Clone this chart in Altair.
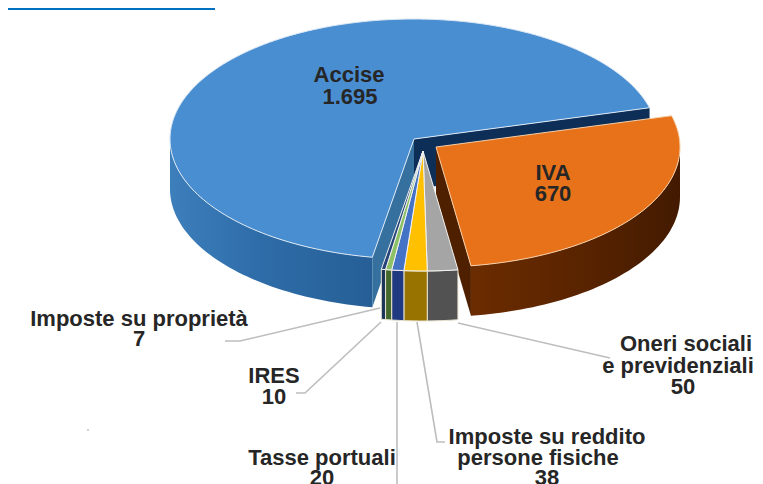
import math
import altair as alt
import pandas as pd

# ---- data ----
categories = ["Accise", "IVA", "Oneri sociali e previdenziali", "Imposte su reddito persone fisiche",
              "Tasse portuali", "IRES", "Imposte su proprietà"]
values = [1695, 670, 50, 38, 20, 10, 7]
top_colors = ["#4A8ED2", "#E8721A", "#A5A5A5", "#FFC000", "#4472C4", "#8CC168", "#264478"]
side_colors = ["#2E6EA8", "#5C2500", "#525252", "#997300", "#1F3A80", "#43682B", "#1B3558"]

label_lines = ["Accise", "1.695", "IVA", "670", "Imposte su proprietà", "7", "IRES", "10",
               "Tasse portuali", "20", "Imposte su reddito", "persone fisiche", "38",
               "Oneri sociali", "e previdenziali", "50"]
label_x = [349, 350, 553, 553, 139, 139, 274, 274, 322, 322, 547, 538, 547, 686, 678, 683]
label_y = [75, 97, 173, 194, 319, 339, 376, 397, 458, 478, 437, 458, 478, 344, 366, 387]

leader_id = [0, 0, 0, 1, 1, 1, 2, 2, 3, 3, 3, 4, 4]
leader_x = [380, 240, 225, 381, 305, 296, 397, 397, 417, 437, 445, 458, 610]
leader_y = [308, 341, 341, 322, 393, 393, 322, 484, 322, 442, 442, 323, 358]

# ---- pie geometry ----
W, H = 747, 476
RX, RY, DEPTH = 244, 120, 50
START = 74.9
BLUE_C = (414, 139)
IVA_C = (436, 147)
SMALL_C = (423, 151)
RIM_FILL = "#DCE8F4"

total = sum(values)
# slices run clockwise: IVA, small ones, then Accise
spans = {}
a = START
for name, v in zip(categories[1:] + categories[:1], values[1:] + values[:1]):
    spans[name] = (a, a + v / total * 360)
    a += v / total * 360


def pt(c, deg, dy=0):
    t = math.radians(deg)
    return (c[0] + RX * math.sin(t), c[1] - RY * math.cos(t) + dy)


def arc(c, a0, a1, dy=0):
    n = max(2, int(abs(a1 - a0) / 1.5) + 1)
    return [pt(c, a0 + (a1 - a0) * i / (n - 1), dy) for i in range(n)]


def top(c, a0, a1):
    return [c] + arc(c, a0, a1) + [c]


def side(c, a0, a1):
    up = arc(c, a0, a1)
    down = arc(c, a1, a0, DEPTH)
    return up + down + [up[0]]


def cut(c, deg):
    p = pt(c, deg)
    return [c, p, (p[0], p[1] + DEPTH), (c[0], c[1] + DEPTH), c]


def frame(polys):
    rows = []
    for pid, (pts, fill, stroke, sw) in enumerate(polys):
        for i, (x, y) in enumerate(pts):
            rows.append({"pid": f"p{pid:03d}", "i": i, "x": x, "y": y, "fill": fill, "stroke": stroke, "sw": sw})
    return pd.DataFrame(rows)


x_enc = alt.X("x:Q", scale=alt.Scale(domain=[8, 755], nice=False, zero=False), axis=None)
y_enc = alt.Y("y:Q", scale=alt.Scale(domain=[484, 8], nice=False, zero=False), axis=None)


def poly_layer(polys):
    return alt.Chart(frame(polys)).mark_line(fill="#000000", clip=True, interpolate="linear").encode(
        x=x_enc, y=y_enc, order="i:Q",
        fill=alt.Fill("fill:N", scale=None),
        stroke=alt.Stroke("stroke:N", scale=None),
        strokeWidth=alt.StrokeWidth("sw:Q", scale=None),
        detail="pid:N",
    )


def grad_layer(pts, stops, x1=0.0, x2=1.0):
    df = frame([(pts, "", "", 0)])
    return alt.Chart(df).mark_line(
        fill=alt.Gradient(gradient="linear", x1=x1, x2=x2, y1=0, y2=0,
                          stops=[alt.GradientStop(color=c, offset=o) for o, c in stops]),
        strokeWidth=0, clip=True,
    ).encode(x=x_enc, y=y_enc, order="i:Q")


blue_a0, blue_a1 = spans["Accise"]
iva_a0, iva_a1 = spans["IVA"]

layers = [
    # Accise: outer wall, cut faces, top
    grad_layer(side(BLUE_C, blue_a0, 270), [(0, "#265F96"), (0.55, "#2E6CA8"), (1, "#3D7FBB")], 1, 0),
    poly_layer([
        (cut(BLUE_C, blue_a0), "#35709F", "#35709F", 0),
        (cut(BLUE_C, blue_a1), "#0C2E57", "#0C2E57", 0),
        (top(BLUE_C, blue_a0, blue_a1), top_colors[0], RIM_FILL, 1),
    ]),
    # IVA: wall, cut face, top
    grad_layer(side(IVA_C, 90, iva_a1), [(0, "#6B2C00"), (0.5, "#5A2400"), (1, "#431A00")]),
    poly_layer([
        (cut(IVA_C, iva_a1), "#4E2000", "#4E2000", 0),
        (top(IVA_C, iva_a0, iva_a1), top_colors[1], "#F6CFA8", 1),
    ]),
]

# small slices, pulled out a little
small = []
for k in range(2, 7):
    a0, a1 = spans[categories[k]]
    small.append((side(SMALL_C, a0, a1), side_colors[k], "#E8E4D0", 1))
    small.append((top(SMALL_C, a0, a1), top_colors[k], "#F2F2F2", 1))
layers.append(poly_layer(small))

leaders = pd.DataFrame({"id": leader_id, "x": leader_x, "y": leader_y, "i": range(len(leader_id))})
layers.append(alt.Chart(leaders).mark_line(color="#BDBDBD", strokeWidth=1.6).encode(
    x=x_enc, y=y_enc, detail="id:N", order="i:Q"))

labels = pd.DataFrame({"t": label_lines, "x": label_x, "y": label_y})
layers.append(alt.Chart(labels).mark_text(
    font="Liberation Sans", fontWeight="bold", fontSize=22, color="#262626", align="center", baseline="middle",
).encode(x=x_enc, y=y_enc, text="t:N"))

# decorative rule at the top of the picture and the stray speck
layers.append(alt.Chart(pd.DataFrame({"x": [8, 215], "y": [9, 9]})).mark_line(color="#0070C0", strokeWidth=2).encode(x=x_enc, y=y_enc))
layers.append(alt.Chart(pd.DataFrame({"x": [88], "y": [430]})).mark_point(color="#555555", size=2, filled=True).encode(x=x_enc, y=y_enc))

chart = alt.layer(*layers).properties(
    width=W, height=H, padding=0, background="white",
    autosize=alt.AutoSizeParams(type="none", contains="content"),
).configure_view(stroke=None)
chart.save("out.html", embed_options={"renderer": "svg", "actions": False})
